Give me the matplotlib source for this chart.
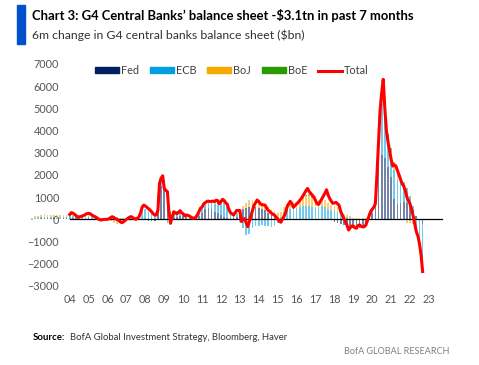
import matplotlib
matplotlib.use("Agg")
import matplotlib.pyplot as plt
import numpy as np
from matplotlib.patches import Patch, Rectangle
from matplotlib.lines import Line2D

plt.rcParams["font.family"] = ["Lato", "DejaVu Sans"]

# 6m change in balance sheet, $bn, bimonthly from Jan 2002 (6 values per year)
fed = [
    20, 30, 30, 40, 40, 40,
    40, 40, 30, 30, 40, 40,
    50, 50, 40, 40, 30, 30,
    40, 30, 20, 10, 20, 20,
    20, 30, 30, 20, 10, 10,
    20, 20, 30, 20, 10, 0,
    -30, -60, -80, -60, 900, 1500,
    1450, 900, 200, 50, 100, 150,
    150, 120, 50, 0, 50, 150,
    300, 450, 500, 450, 350, 300,
    200, 100, 50, 30, 50, 100,
    300, 450, 500, 550, 550, 550,
    500, 450, 400, 300, 200, 100,
    50, 0, 0, 0, 0, 0,
    0, 0, 0, 0, 0, 0,
    0, 0, 0, 0, -20, -50,
    -100, -150, -200, -250, -300, -350,
    -350, -350, -300, -250, -150, 150,
    300, 600, 2900, 2900, 2750, 2370,
    1900, 900, 700, 750, 800, 750,
    600, 400, 150, -50, -200,
]
ecb = [
    -40, 40, 60, 80, 80, 60,
    60, 50, 50, 60, 70, 70,
    80, 80, 80, 70, 60, 80,
    100, 80, 60, 40, 30, 50,
    60, 80, 100, 80, 60, 50,
    50, 80, 60, 60, 200, 450,
    450, 350, 250, 150, 200, 300,
    200, -150, -200, 100, 150, 100,
    80, 60, 40, 50, 100, 100,
    150, 200, 250, 300, 350, 350,
    550, 650, 500, 250, 150, 150,
    -100, -400, -700, -650, -400, -300,
    -300, -250, -300, -300, -350, -300,
    -150, 100, 300, 400, 450, 500,
    500, 550, 600, 600, 600, 550,
    500, 550, 600, 550, 450, 400,
    400, 350, 250, 150, 100, 50,
    0, -20, -50, -50, 0, 50,
    50, 200, 1500, 2300, 1700, 1130,
    800, 1300, 1100, 1000, 800, 600,
    400, 200, -300, -900, -1500,
]
boj = [
    20, 60, 80, 80, 100, 100,
    100, 100, 120, 100, 80, 80,
    80, 60, 60, 50, 40, 40,
    40, 30, 20, 10, 0, 0,
    -20, -80, -150, -200, -150, -100,
    -30, 0, 20, 20, 20, 30,
    30, 20, 20, 30, 50, 80,
    80, 50, 20, 20, 30, 30,
    30, 20, 20, 30, 50, 60,
    80, 120, 100, 80, 60, 60,
    60, 60, 50, 40, 40, 50,
    80, 150, 250, 300, 300, 300,
    300, 300, 300, 280, 280, 280,
    250, 250, 250, 280, 300, 300,
    300, 350, 400, 450, 450, 400,
    350, 300, 300, 300, 300, 250,
    200, 200, 150, 100, 80, 80,
    80, 60, 50, 50, 50, 80,
    80, 100, 200, 450, 300, 220,
    350, 300, 250, 150, 0, -150,
    -150, -200, -250, -300, -350,
]
boe = [
    0, 0, 0, 0, 0, 0,
    0, 0, 0, 0, 0, 0,
    0, 0, 0, 0, 0, 0,
    0, 0, 0, 0, 0, 0,
    0, 0, 0, 0, 0, 0,
    0, 0, 0, 0, 0, 0,
    0, 0, 0, 0, 0, 30,
    50, 100, 150, 150, 100, 50,
    20, 0, 0, 0, 0, 0,
    0, 0, 0, 0, 20, 50,
    80, 80, 50, 20, 0, 0,
    0, 0, 0, 0, 0, 0,
    0, 0, 0, 0, 0, 0,
    -20, -20, -20, -20, -20, -20,
    -20, -20, 0, 50, 80, 80,
    60, 40, 20, 0, 0, 0,
    0, -10, -20, -20, -20, -20,
    -20, -30, -30, -20, -10, 0,
    0, 50, 100, 150, 200, 100,
    150, 100, 100, 100, 80, 50,
    30, 0, -30, -50, -80,
]

# total, monthly from Jan 2004
total = [
    220, 300, 280, 230, 170, 100, 110, 130, 150, 180, 220, 260,
    270, 250, 200, 150, 120, 80, 30, -20, -30, -10, 0, 0,
    0, 30, 80, 120, 80, 30, 0, -50, -100, -150, -120, -60,
    0, 50, 100, 120, 80, 30, 0, 50, 120, 300, 550, 640,
    600, 540, 480, 420, 340, 250, 190, 200, 420, 1630, 1850, 1960,
    1400, 1300, 1250, 300, -180, 100, 340, 300, 250, 300, 390, 300,
    250, 160, 200, 180, 150, 100, 50, 60, 80, 200, 340, 500,
    550, 690, 750, 800, 820, 800, 810, 820, 800, 860, 840, 700,
    800, 900, 850, 750, 680, 450, 300, 250, 190, 300, 400, 400,
    400, -100, 0, 30, -150, -330, -100, 150, 400, 640, 750, 870,
    800, 700, 660, 650, 640, 500, 410, 350, 280, 230, 190, 100,
    20, -80, -130, 0, 130, 300, 570, 700, 810, 700, 540, 620,
    700, 760, 850, 940, 1050, 1170, 1300, 1390, 1250, 1170, 1080, 1000,
    850, 700, 670, 800, 940, 1050, 1170, 1330, 1100, 940, 820, 720,
    740, 760, 700, 630, 350, 200, 40, -100, -260, -480, -380, -300,
    -300, -380, -400, -280, -250, -320, -340, -330, -250, -50, 150, 350,
    450, 550, 700, 2000, 3500, 4900, 5700, 6300, 5000, 4000, 3500, 3100,
    2700, 2400, 2450, 2400, 2200, 2000, 1800, 1600, 1500, 1300, 1000, 850,
    700, 450, 150, -200, -550, -750, -1100, -1600, -2350,
]

series = [("Fed", fed, "#002060"), ("ECB", ecb, "#00A0E0"),
          ("BoJ", boj, "#F5A800"), ("BoE", boe, "#2A9A00")]
years = [f"{y % 100:02d}" for y in range(2004, 2024)]

bar_x = 2002 + np.arange(len(fed)) / 6
line_x = 2004 + np.arange(len(total)) / 12

fig = plt.figure(figsize=(4.79, 3.65), dpi=100)
ax = fig.add_axes([30 / 479, 79 / 365, 415 / 479, 222.2 / 365])

pos = np.zeros(len(fed))
neg = np.zeros(len(fed))
for name, vals, color in series:
    v = np.array(vals, dtype=float)
    bottom = np.where(v >= 0, pos, neg)
    ax.bar(bar_x, v, bottom=bottom, width=0.09, color=color, alpha=0.55,
           linewidth=0, zorder=2)
    pos += np.where(v >= 0, v, 0)
    neg += np.where(v < 0, v, 0)

ax.plot([2004, 2023.7], [0, 0], color="black", lw=0.9, zorder=3)
ax.plot(line_x, total, color="#FF0000", lw=2.2, zorder=4, solid_joinstyle="round")

ax.set_xlim(2001.9, 2023.85)
ax.set_ylim(-3000, 7000)
ax.set_yticks(range(-3000, 7001, 1000))
ax.set_xticks(range(2004, 2024))
ax.set_xticklabels(years)
for s in ax.spines.values():
    s.set_visible(False)
ax.tick_params(axis="y", length=0, pad=-21, labelsize=7.8, labelcolor="#555555")
ax.tick_params(axis="x", length=0, pad=6, labelsize=7.8, labelcolor="#555555")
for lab in ax.get_yticklabels():
    lab.set_zorder(5)

handles = [Patch(color=c, label=n) for n, _, c in series]
handles.append(Line2D([], [], color="#FF0000", lw=2.2, label="Total"))
fig.legend(handles=handles, loc="center left", bbox_to_anchor=(95 / 479, 1 - 70.7 / 365),
           ncol=5, frameon=False, fontsize=7.8, handlelength=2.2, handleheight=0.5,
           handletextpad=0.2, columnspacing=1.0, borderpad=0, borderaxespad=0,
           labelcolor="#404040")

fig.patches.append(Rectangle((17 / 479, 1 - 44 / 365), 8 / 479, 39 / 365,
                             transform=fig.transFigure, color="#0052CC"))
fig.text(32 / 479, 1 - 16 / 365, "Chart 3: G4 Central Banks\u2019 balance sheet -$3.1tn in past 7 months",
         fontsize=9.4, fontweight="bold", va="center", ha="left")
fig.text(32 / 479, 1 - 35 / 365, "6m change in G4 central banks balance sheet ($bn)",
         fontsize=8.8, va="center", ha="left", color="#333333")
fig.text(33 / 479, 1 - 337.5 / 365, "Source:", fontsize=6.9, fontweight="bold", va="center")
fig.text(70 / 479, 1 - 337.5 / 365, "BofA Global Investment Strategy, Bloomberg, Haver",
         fontsize=6.8, va="center", color="#333333")
fig.text(449 / 479, 1 - 351.7 / 365, "BofA GLOBAL RESEARCH", fontsize=6.5, va="center",
         ha="right", color="#808080")

fig.savefig("out.png", dpi=100)
